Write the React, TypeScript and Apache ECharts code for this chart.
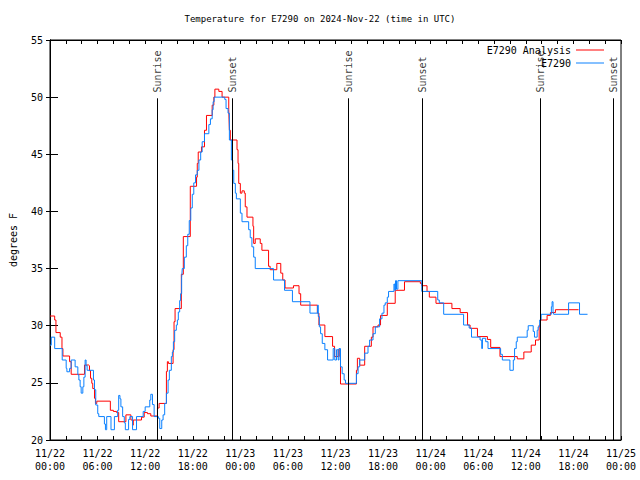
import React, { useEffect, useRef } from "react";
import * as echarts from "echarts";

// Time is in hours since 2024-11-22 00:00 UTC
const analysisHours = [
  0, 0.59, 0.75, 1.29, 1.51, 1.63, 2.47, 2.67, 4.35, 4.89, 4.98, 5.11, 5.27, 5.39, 5.61, 5.73, 5.9,
  7.61, 7.99, 8.4, 8.66, 9.57, 10.2, 10.41, 10.5, 11.54, 11.88, 12.29, 12.71, 13.55, 13.76, 14.68,
  14.8, 14.93, 15.52, 15.64, 15.77, 16.56, 16.81, 17.69, 18.48, 18.57, 18.69, 19.1, 19.48, 19.73,
  20.45, 20.66, 20.79, 21.29, 21.7, 22.54, 22.62, 22.74, 23.58, 23.71, 23.8, 24.0, 24.21, 24.5,
  24.62, 24.84, 25.59, 25.68, 25.88, 26.51, 26.72, 27.56, 27.76, 28.6, 29.1, 29.35, 29.64, 30.7,
  31.4, 31.61, 33.71, 33.91, 34.66, 35.63, 35.88, 36.34, 36.54, 36.63, 38.64, 38.76, 39.05, 39.68,
  40.52, 40.73, 41.36, 41.68, 42.53, 43.53, 44.7, 46.7, 46.88, 47.54, 47.83, 48.67, 50.68, 51.72,
  52.65, 52.97, 53.9, 55.16, 55.57, 56.74, 58.92, 59.75, 60.68, 61.22, 61.68, 61.84, 62.68, 63.1,
  63.73, 66.65,
];
const analysisTemps = [
  30.85, 30.5, 29.4, 29.0, 28.0, 27.35, 26.85, 25.75, 26.56, 26.5, 26.06, 25.4, 24.96, 24.5, 23.65,
  23.2, 23.4, 22.6, 22.5, 22.4, 21.6, 22.2, 21.75, 21.3, 21.75, 22.0, 22.4, 22.3, 22.1, 22.8, 23.2,
  26.0, 26.85, 26.7, 27.9, 30.35, 31.5, 34.5, 37.8, 42.2, 43.0, 44.2, 45.2, 45.65, 47.1, 48.4, 49.3,
  50.0, 50.7, 50.5, 50.0, 48.9, 47.1, 46.25, 45.4, 44.2, 42.45, 41.6, 41.8, 41.6, 40.4, 39.5, 38.7,
  37.2, 37.6, 37.2, 36.6, 35.2, 34.9, 35.45, 34.6, 34.0, 33.3, 33.5, 32.8, 31.8, 31.1, 30.06, 29.05,
  28.2, 27.3, 27.9, 27.3, 24.9, 26.1, 27.15, 26.55, 28.2, 29.0, 29.9, 30.06, 30.9, 31.96, 33.1,
  33.85, 33.7, 33.5, 33.0, 32.5, 31.96, 31.5, 31.15, 30.06, 29.77, 29.05, 28.8, 28.1, 27.3, 27.1,
  27.7, 28.3, 28.75, 30.06, 30.5, 30.9, 31.15, 31.4, 31.4,
];

const obsHours = [
  0, 0.16, 0.59, 1.54, 2.04, 2.13, 2.47, 2.67, 3.17, 3.51, 3.64, 3.8, 3.93, 4.14, 4.27, 4.43, 4.55,
  4.68, 5.48, 5.61, 5.77, 6.02, 6.15, 6.86, 6.99, 7.15, 7.69, 8.12, 8.53, 8.66, 8.82, 8.94, 9.16,
  9.37, 9.5, 9.91, 10.07, 10.41, 10.91, 11.75, 12.0, 12.58, 12.71, 12.92, 13.13, 13.67, 13.84,
  14.09, 14.26, 14.46, 14.68, 14.89, 15.05, 15.3, 15.43, 15.56, 15.72, 15.93, 16.06, 16.18, 16.35,
  16.47, 16.6, 16.68, 16.94, 17.19, 17.37, 17.56, 17.75, 17.94, 18.13, 18.35, 18.57, 18.78, 19.0,
  19.19, 19.48, 20.03, 20.23, 20.45, 20.57, 20.7, 22.04, 22.2, 22.45, 22.62, 22.87, 23.04, 23.17,
  23.37, 23.5, 24.0, 24.21, 25.05, 25.25, 25.46, 25.68, 25.88, 28.19, 29.57, 30.57, 32.78, 33.74,
  33.83, 33.96, 34.12, 34.33, 34.66, 35.0, 35.71, 35.91, 36.13, 36.34, 36.44, 36.63, 36.84, 37.09,
  37.26, 38.64, 38.85, 39.05, 39.68, 40.1, 40.3, 40.73, 41.02, 41.56, 41.86, 42.11, 42.27, 42.53,
  42.69, 43.37, 43.47, 43.57, 43.69, 43.87, 46.88, 48.89, 49.09, 49.64, 52.15, 52.85, 53.15, 54.23,
  54.44, 54.53, 54.94, 55.23, 56.82, 57.04, 57.99, 58.42, 58.58, 58.79, 58.92, 60.17, 60.3, 60.93,
  61.09, 61.43, 61.55, 61.75, 61.93, 63.22, 63.31, 63.43, 63.51, 65.39, 66.77, 67.78,
];
const obsTemps = [
  28.3, 29.0, 28.0, 27.0, 26.27, 25.97, 26.27, 27.0, 26.4, 25.7, 25.25, 24.66, 24.1, 24.66, 25.5,
  27.0, 26.5, 26.1, 25.25, 24.4, 23.06, 22.3, 22.05, 21.4, 20.9, 22.05, 20.9, 22.05, 22.6, 23.9,
  23.6, 22.9, 22.05, 21.5, 20.9, 21.8, 22.05, 20.9, 22.05, 22.5, 22.9, 23.5, 24.0, 23.1, 22.05,
  21.9, 21.0, 21.75, 22.2, 23.2, 24.1, 25.25, 26.1, 27.3, 27.7, 28.6, 29.6, 30.06, 30.5, 31.2,
  32.2, 32.8, 34.2, 35.0, 36.0, 37.0, 38.0, 39.2, 40.3, 41.5, 42.5, 43.2, 43.6, 44.5, 45.2, 46.1,
  46.8, 47.6, 48.1, 48.9, 49.6, 50.0, 49.8, 49.0, 48.6, 46.25, 44.5, 43.6, 42.45, 41.6, 41.1,
  39.85, 39.1, 38.4, 37.7, 36.9, 36.0, 35.0, 34.0, 33.1, 32.1, 31.1, 31.8, 30.8, 29.9, 29.3,
  28.45, 27.9, 27.0, 28.0, 27.0, 27.9, 27.0, 28.0, 26.4, 25.8, 25.25, 24.96, 25.8, 26.4, 27.0,
  27.6, 28.2, 28.75, 29.3, 29.9, 30.6, 31.1, 31.8, 32.0, 32.5, 33.0, 33.65, 33.1, 33.94, 33.2,
  33.94, 33.0, 32.25, 32.0, 31.0, 30.06, 29.8, 29.0, 28.75, 28.0, 28.9, 28.6, 28.0, 27.5, 27.0,
  26.1, 27.0, 28.0, 28.6, 29.0, 29.6, 30.0, 29.5, 29.0, 29.6, 29.9, 30.5, 31.0, 31.66, 32.1, 31.2,
  31.0, 32.0, 31.0, 31.0,
];

const sunHours = [13.58, 22.96, 37.67, 47.0, 61.84, 71.04];
const sunNames = ["Sunrise", "Sunset", "Sunrise", "Sunset", "Sunrise", "Sunset"];

const seriesNames = ["E7290 Analysis", "E7290"];
const seriesColors = ["#ff0000", "#0a80ff"];
const titleText = "Temperature for E7290 on 2024-Nov-22 (time in UTC)";
const yName = "degrees F";
const X_MIN = 0;
const X_MAX = 72;
const Y_MIN = 20;
const Y_MAX = 55;
const SUN_LINE_TOP = 49.9;
const SUN_LABEL_AT = 50.4;

const FONT = "DejaVu Sans Mono, monospace";

function pairs(xs: number[], ys: number[]) {
  return xs.map((x, i) => [x, ys[i]]);
}

function xLabel(v: number) {
  if (Math.round(v) % 6 !== 0) return "";
  const day = 22 + Math.floor(v / 24);
  const hr = Math.round(v % 24);
  return `11/${day}\n${hr < 10 ? "0" + hr : hr}:00`;
}

export default function App() {
  const ref = useRef<HTMLDivElement>(null);
  useEffect(() => {
    if (!ref.current) return;
    const chart = echarts.init(ref.current, undefined, { renderer: "svg" });
    const textBase = { fontFamily: FONT, fontSize: 10, color: "#000" };
    chart.setOption({
      animation: false,
      backgroundColor: "#fff",
      title: {
        text: titleText,
        left: "center",
        top: 9,
        textStyle: { ...textBase, fontWeight: "normal", fontSize: 9 },
      },
      legend: {
        data: seriesNames,
        orient: "vertical",
        right: 31,
        top: 39,
        align: "right",
        itemWidth: 28,
        itemHeight: 1,
        itemGap: 1,
        icon: "rect",
        textStyle: { ...textBase, lineHeight: 12 },
      },
      grid: {
        left: 47,
        right: 19,
        top: 40,
        bottom: 40,
        show: true,
        borderColor: "#000",
        borderWidth: 1,
        backgroundColor: "transparent",
      },
      xAxis: [
        {
          type: "value",
          min: X_MIN,
          max: X_MAX,
          interval: 2,
          axisLine: { lineStyle: { color: "#000" } },
          axisTick: { inside: true, length: 4, lineStyle: { color: "#000" } },
          splitLine: { show: false },
          axisLabel: {
            ...textBase,
            lineHeight: 13,
            margin: 7,
            formatter: xLabel,
            showMinLabel: true,
            showMaxLabel: true,
            hideOverlap: false,
          },
        },
        {
          type: "value",
          position: "top",
          min: X_MIN,
          max: X_MAX,
          interval: 2,
          axisLine: { lineStyle: { color: "#000" } },
          axisTick: { inside: true, length: 4, lineStyle: { color: "#000" } },
          axisLabel: { show: false },
          splitLine: { show: false },
        },
      ],
      yAxis: [
        {
          type: "value",
          min: Y_MIN,
          max: Y_MAX,
          interval: 5,
          name: yName,
          nameLocation: "middle",
          nameGap: 32,
          nameTextStyle: { ...textBase },
          axisLine: { show: true, lineStyle: { color: "#000" } },
          axisTick: { show: true, inside: true, length: 8, lineStyle: { color: "#000" } },
          splitLine: { show: false },
          axisLabel: { ...textBase, margin: 7 },
        },
        {
          type: "value",
          position: "right",
          min: Y_MIN,
          max: Y_MAX,
          interval: 5,
          axisLine: { show: true, lineStyle: { color: "#000" } },
          axisTick: { show: true, inside: true, length: 4, lineStyle: { color: "#000" } },
          axisLabel: { show: false },
          splitLine: { show: false },
        },
      ],
      series: [
        {
          name: "sun",
          type: "scatter",
          symbolSize: 0,
          silent: true,
          data: sunHours.map((h, i) => ({ value: [h, SUN_LABEL_AT], name: sunNames[i] })),
          label: {
            show: true,
            formatter: (p: any) => p.name,
            position: [0, 0],
            rotate: 90,
            align: "left",
            verticalAlign: "middle",
            ...textBase,
          },
          markLine: {
            silent: true,
            symbol: "none",
            label: { show: false },
            lineStyle: { color: "#000", width: 1, type: "solid" },
            data: sunHours.map((h) => [{ coord: [h, Y_MIN] }, { coord: [h, SUN_LINE_TOP] }]),
          },
          z: 1,
        },
        {
          name: seriesNames[0],
          type: "line",
          step: "end",
          showSymbol: false,
          symbol: "none",
          data: pairs(analysisHours, analysisTemps),
          lineStyle: { color: seriesColors[0], width: 1 },
          itemStyle: { color: seriesColors[0] },
          z: 2,
        },
        {
          name: seriesNames[1],
          type: "line",
          step: "end",
          showSymbol: false,
          symbol: "none",
          data: pairs(obsHours, obsTemps),
          lineStyle: { color: seriesColors[1], width: 1 },
          itemStyle: { color: seriesColors[1] },
          z: 3,
        },
      ],
    });
    return () => chart.dispose();
  }, []);
  return (
    <div
      ref={ref}
      style={{ position: "fixed", left: 0, top: 0, width: 640, height: 480, background: "#fff" }}
    />
  );
}
